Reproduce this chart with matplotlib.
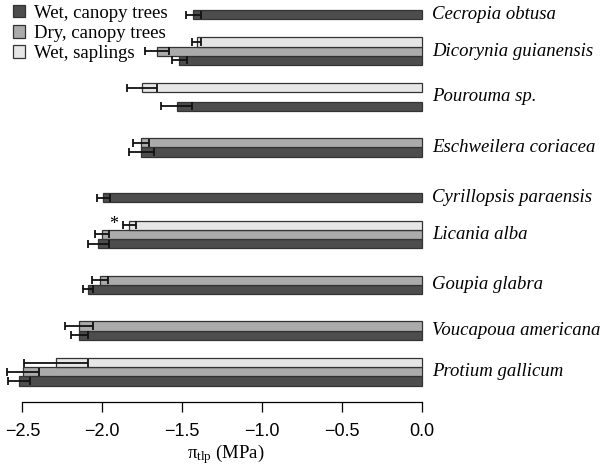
import numpy as np
import matplotlib
matplotlib.use("Agg")
import matplotlib.pyplot as plt
from matplotlib.patches import Patch

plt.rcParams['mathtext.fontset'] = 'custom'
plt.rcParams['mathtext.rm'] = 'Liberation Serif'
plt.rcParams['mathtext.it'] = 'Liberation Serif:italic'

# species, top to bottom
species = ['Cecropia obtusa', 'Dicorynia guianensis', 'Pourouma sp.',
           'Eschweilera coriacea', 'Cyrillopsis paraensis', 'Licania alba',
           'Goupia glabra', 'Voucapoua americana', 'Protium gallicum']

# turgor loss point (MPa) and error, None = not measured
sap_mean = [None, -1.41, -1.754, None, None, -1.83, None, None, -2.29]
sap_err = [None, 0.026, 0.094, None, None, 0.04, None, None, 0.20]
dry_mean = [None, -1.658, None, -1.758, None, -2.003, -2.015, -2.146, -2.495]
dry_err = [None, 0.075, None, 0.052, None, 0.044, 0.052, 0.085, 0.10]
wet_mean = [-1.43, -1.52, -1.535, -1.755, -1.994, -2.025, -2.088, -2.144, -2.52]
wet_err = [0.045, 0.047, 0.098, 0.08, 0.042, 0.067, 0.032, 0.053, 0.07]

series_labels = ['Wet, canopy trees', 'Dry, canopy trees', 'Wet, saplings']
series_colors = ['#4d4d4d', '#ababab', '#e6e6e6']

# significance mark: (species index, series)
stars = [(5, 'sap')]

xticks = [-2.5, -2.0, -1.5, -1.0, -0.5, 0.0]

fig = plt.figure(figsize=(6.08, 4.67), dpi=100)
ax = fig.add_axes([0.0, 0.1548, 0.6993, 0.8435])

# slot offsets inside each group (group spacing = 5 bar heights)
offsets = {'sap': -1, 'dry': 0, 'wet': 1}
series = [('wet', wet_mean, wet_err, series_colors[0]),
          ('dry', dry_mean, dry_err, series_colors[1]),
          ('sap', sap_mean, sap_err, series_colors[2])]

label_y = {}
for key, means, errs, col in series:
    for i, (m, e) in enumerate(zip(means, errs)):
        if m is None:
            continue
        y = 5 * i + offsets[key]
        label_y.setdefault(i, []).append(y)
        ax.barh(y, m, height=1.0, color=col, edgecolor='#333333', linewidth=0.9, zorder=2)
        ax.errorbar(m, y, xerr=e, fmt='none', ecolor='#111111', elinewidth=1.3,
                    capsize=3, capthick=1.3, zorder=3)

for i, name in enumerate(species):
    ax.text(0.065, np.mean(label_y[i]), name, ha='left', va='center',
            family='Liberation Serif', style='italic', fontsize=13.5, clip_on=False)

mean_lookup = {'sap': (sap_mean, sap_err), 'dry': (dry_mean, dry_err), 'wet': (wet_mean, wet_err)}
for i, key in stars:
    m, e = mean_lookup[key][0][i], mean_lookup[key][1][i]
    ax.text(m - e - 0.06, 5 * i + offsets[key] - 0.1, '*', ha='center', va='center',
            family='Liberation Serif', fontsize=13)

ax.set_xlim(-2.64, 0.02)
ax.set_ylim(42.5, -0.5)
for s in ['top', 'right', 'left']:
    ax.spines[s].set_visible(False)
ax.spines['bottom'].set_position(('outward', 5.2))
ax.spines['bottom'].set_bounds(-2.5, 0.0)
ax.spines['bottom'].set_linewidth(0.9)
ax.set_yticks([])
ax.set_xticks(xticks)
ax.set_xticklabels(['\u22122.5', '\u22122.0', '\u22121.5', '\u22121.0', '\u22120.5', '0.0'])
ax.tick_params(axis='x', length=7.5, width=0.9, pad=8, labelsize=13)
for lab in ax.get_xticklabels():
    lab.set_family('Liberation Sans')

fig.text(226 / 608, 9 / 467, r'$\mathrm{\pi_{tlp}}$ (MPa)', ha='center', va='baseline',
         family='Liberation Serif', fontsize=13.5)

handles = [Patch(facecolor=c, edgecolor='#333333', linewidth=0.9) for c in series_colors]
fig.legend(handles, series_labels, loc='upper left', bbox_to_anchor=(0.0, 1.018),
           frameon=False, prop={'family': 'Liberation Serif', 'size': 13.5},
           handlelength=0.65, handleheight=0.65, handletextpad=0.45,
           labelspacing=0.17, borderaxespad=0.3)

fig.savefig('out.png', dpi=100)
